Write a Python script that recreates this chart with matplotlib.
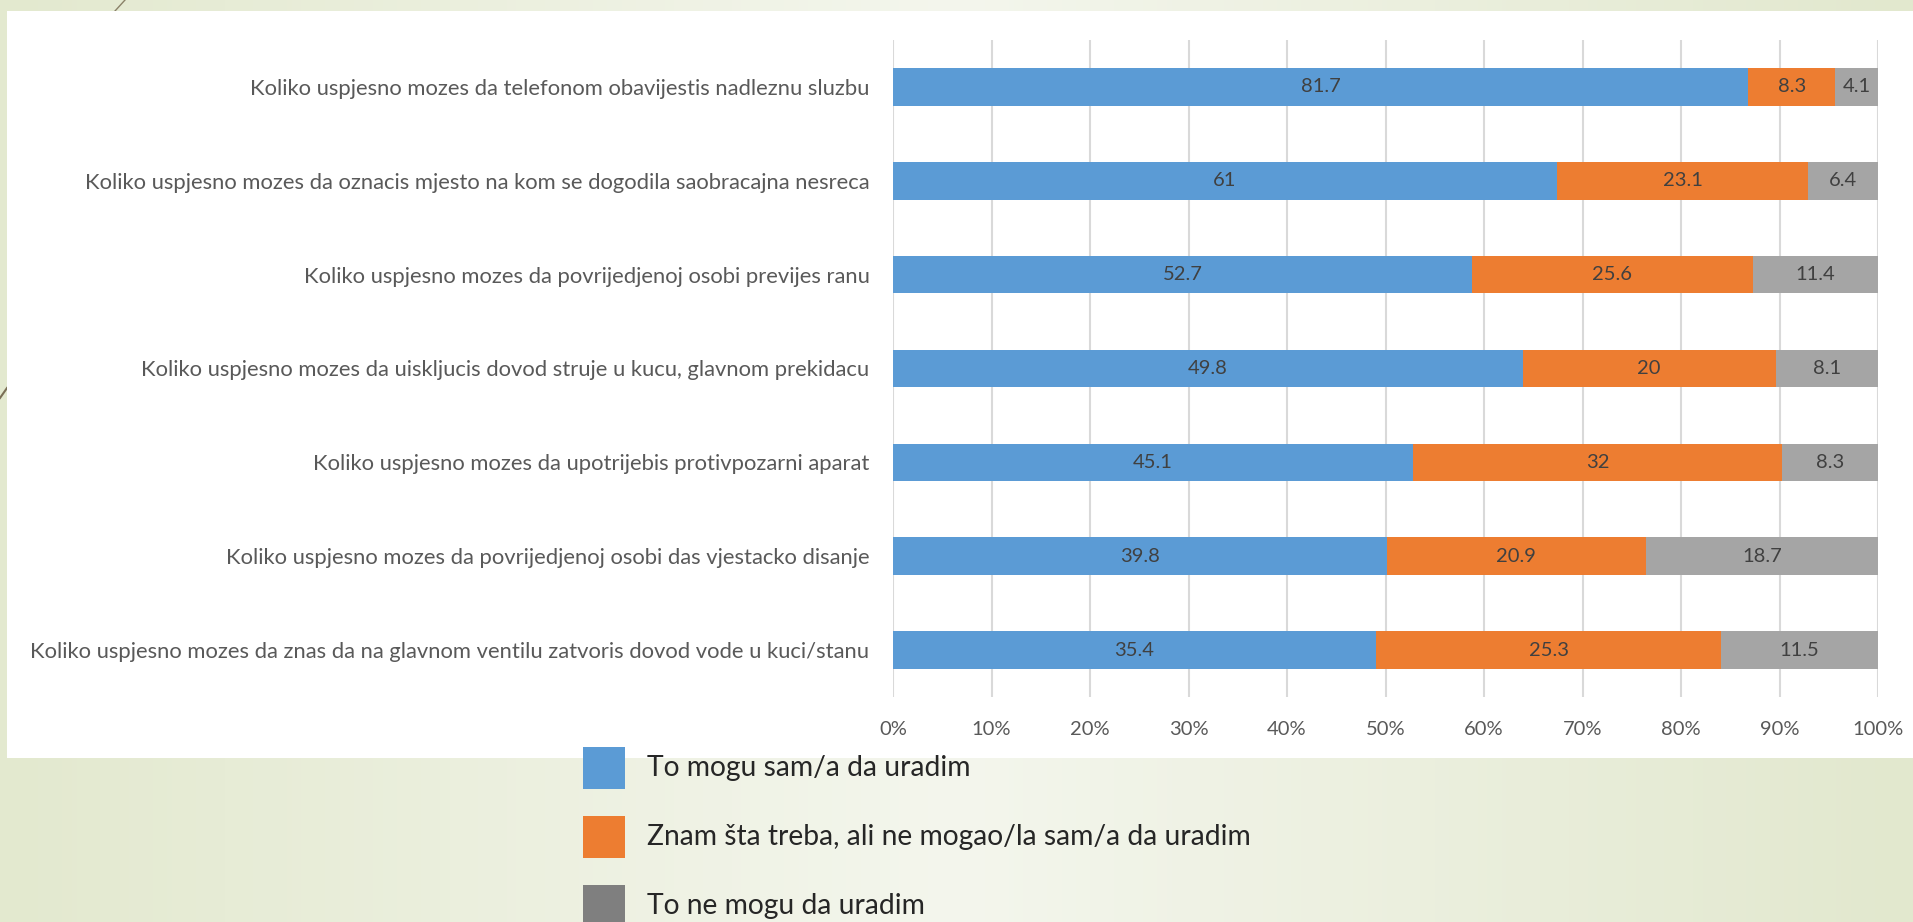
import numpy as np
import matplotlib.pyplot as plt
from matplotlib.patches import Rectangle
from matplotlib.lines import Line2D
from matplotlib.colors import LinearSegmentedColormap

plt.rcParams['font.family'] = ['Lato', 'DejaVu Sans']

# Data
questions = [
    "Koliko uspjesno mozes da telefonom obavijestis nadleznu sluzbu",
    "Koliko uspjesno mozes da oznacis mjesto na kom se dogodila saobracajna nesreca",
    "Koliko uspjesno mozes da povrijedjenoj osobi previjes ranu",
    "Koliko uspjesno mozes da uiskljucis dovod struje u kucu, glavnom prekidacu",
    "Koliko uspjesno mozes da upotrijebis protivpozarni aparat",
    "Koliko uspjesno mozes da povrijedjenoj osobi das vjestacko disanje",
    "Koliko uspjesno mozes da znas da na glavnom ventilu zatvoris dovod vode u kuci/stanu",
]
can_alone = [81.7, 61, 52.7, 49.8, 45.1, 39.8, 35.4]
know_but_not = [8.3, 23.1, 25.6, 20, 32, 20.9, 25.3]
cannot = [4.1, 6.4, 11.4, 8.1, 8.3, 18.7, 11.5]

series_names = ["To mogu sam/a da uradim",
                "Znam šta treba, ali ne mogao/la sam/a da uradim",
                "To ne mogu da uradim"]
bar_colors = ["#5B9BD5", "#ED7D31", "#A5A5A5"]
legend_colors = ["#5B9BD5", "#ED7D31", "#7F7F7F"]

W, H = 1913, 922
fig = plt.figure(figsize=(W / 100, H / 100), dpi=100)

# slide background gradient
bg = fig.add_axes([0, 0, 1, 1], zorder=-10)
cmap = LinearSegmentedColormap.from_list("bg", ["#e3e9cf", "#f4f6ed", "#e2e8ce"])
xx = np.linspace(0, 1, 400)
grad = np.tile(xx, (50, 1))
bg.imshow(grad, cmap=cmap, aspect='auto', extent=[0, 1, 0, 1])
bg.set_xlim(0, 1)
bg.set_ylim(0, 1)
bg.axis('off')
bg.add_line(Line2D([125 / W, 115 / W], [1, 1 - 11 / H], color="#8a8168", lw=1))
bg.add_line(Line2D([0, 7 / W], [1 - 398 / H, 1 - 388 / H], color="#7a6f55", lw=1.5))

# white chart area
fig.patches.append(Rectangle((7 / W, 1 - 758 / H), 1 - 7 / W, (758 - 11) / H,
                             transform=fig.transFigure, facecolor="white",
                             edgecolor="none", zorder=-5))

ax = fig.add_axes([893 / W, 1 - 697 / H, (1878 - 893) / W, (697 - 40) / H])
ax.set_facecolor("white")

data = np.array([can_alone, know_but_not, cannot])
totals = data.sum(axis=0)
shares = data / totals * 100
y = np.arange(len(questions))

left = np.zeros(len(questions))
for vals, sh, name, col in zip(data, shares, series_names, bar_colors):
    bars = ax.barh(y, sh, left=left, height=0.4, color=col, label=name, zorder=3)
    ax.bar_label(bars, labels=[f"{v:g}" for v in vals], label_type='center',
                 color="#404040", fontsize=14.5)
    left += sh

ax.set_xlim(0, 100)
ax.set_ylim(len(questions) - 0.5, -0.5)
ax.set_xticks(np.arange(0, 101, 10))
ax.set_xticklabels([f"{t}%" for t in range(0, 101, 10)])
ax.set_yticks(y)
ax.set_yticklabels(questions)
ax.grid(axis='x', color="#d9d9d9", lw=1.5, zorder=0)
for s in ax.spines.values():
    s.set_visible(False)
ax.tick_params(axis='both', length=0, labelcolor="#595959")
ax.tick_params(axis='x', pad=17, labelsize=14.5)
ax.tick_params(axis='y', pad=17, labelsize=15.85)

# legend (pasted under the chart, big squares)
for i, (name, col) in enumerate(zip(series_names, legend_colors)):
    top = 747 + 69 * i
    fig.patches.append(Rectangle((583 / W, 1 - (top + 42) / H), 42 / W, 42 / H,
                                 transform=fig.transFigure, facecolor=col,
                                 edgecolor='none'))
    fig.text(647 / W, 1 - (top + 21) / H, name, fontsize=20.3, color="#262626",
             va='center', ha='left')

fig.savefig("out.png", dpi=100)
